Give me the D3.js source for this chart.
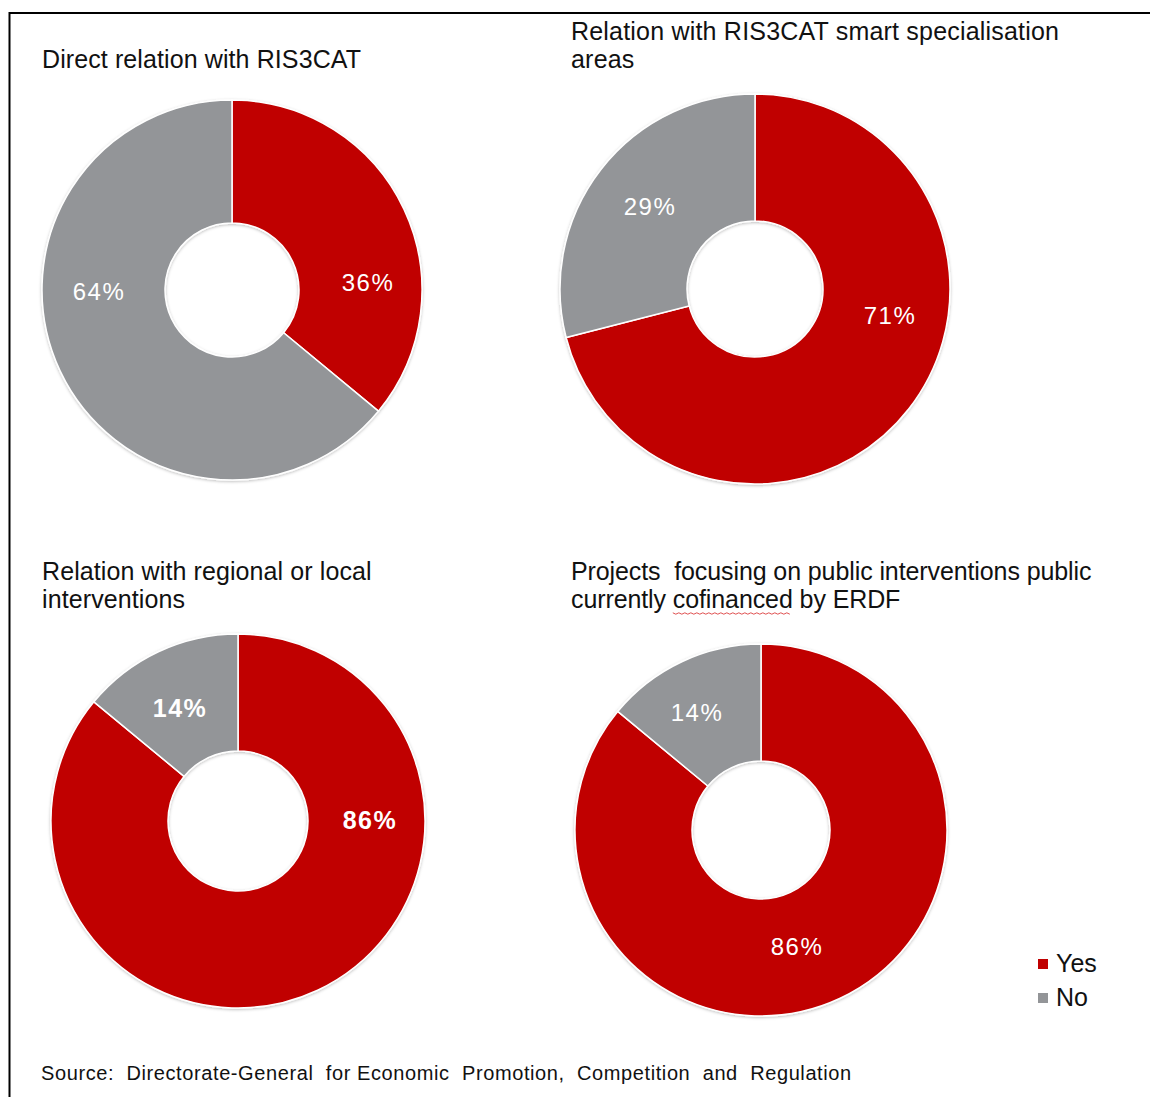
<!DOCTYPE html>
<html><head><meta charset="utf-8">
<script src="https://cdn.jsdelivr.net/npm/d3@7"></script>
<style>body{margin:0;background:#fff;}svg{display:block;font-family:"Liberation Sans",Arial,sans-serif;}</style>
</head><body>
<svg id="c" width="1150" height="1097"></svg>
<script>
const chartTitles = [
  ["Direct relation with RIS3CAT"],
  ["Relation with RIS3CAT smart specialisation", "areas"],
  ["Relation with regional or local", "interventions"],
  ["Projects  focusing on public interventions public", "currently cofinanced by ERDF"]
];
const categories = ["Yes", "No"];
const yesValues = [36, 71, 86, 86];
const noValues = [64, 29, 14, 14];
const sourceText = "Source:  Directorate-General  for Economic  Promotion,  Competition  and  Regulation";

const colors = {Yes: "#C00000", No: "#939598"};
// layout
const layout = [
  {cx: 232, cy: 290, r: 190, ir: 67, tx: 42, ty: 68, bold: false, ls: 0.1, lab: [[136, -8], [-133, 1]]},
  {cx: 755, cy: 289, r: 195, ir: 68, tx: 571, ty: 40, bold: false, ls: 0.2, lab: [[135, 26], [-105, -83]]},
  {cx: 238, cy: 821, r: 187, ir: 70, tx: 42, ty: 580, bold: true, ls: 0.1, lab: [[132, -1], [-58, -113]]},
  {cx: 761, cy: 830, r: 186, ir: 69, tx: 571, ty: 580, bold: false, ls: -0.1, lab: [[36, 116], [-64, -118]]}
];

const svg = d3.select("#c");
// frame
svg.append("line").attr("x1", 9.5).attr("x2", 1150).attr("y1", 13).attr("y2", 13).attr("stroke", "#000").attr("stroke-width", 2);
svg.append("line").attr("x1", 9.5).attr("x2", 9.5).attr("y1", 12).attr("y2", 1097).attr("stroke", "#000").attr("stroke-width", 2);

const defs = svg.append("defs");
const f = defs.append("filter").attr("id", "sh").attr("x", "-10%").attr("y", "-10%").attr("width", "120%").attr("height", "120%");
f.append("feDropShadow").attr("dx", 0).attr("dy", 1).attr("stdDeviation", 1.5).attr("flood-color", "#000").attr("flood-opacity", 0.25);

const pie = d3.pie().sort(null).value(d => d.v);
let lastTspan = null;

layout.forEach((L, i) => {
  const data = [{k: "Yes", v: yesValues[i]}, {k: "No", v: noValues[i]}];
  const arcs = pie(data);
  const arc = d3.arc().innerRadius(L.ir).outerRadius(L.r);
  const g = svg.append("g").attr("transform", `translate(${L.cx},${L.cy})`);
  const gs = g.append("g").attr("filter", "url(#sh)");
  gs.selectAll("path").data(arcs).enter().append("path")
    .attr("d", arc).attr("fill", d => colors[d.data.k])
    .attr("stroke", "#fff").attr("stroke-width", 1.5);
  g.selectAll("text.lab").data(arcs).enter().append("text")
    .attr("class", "lab")
    .attr("x", (d, j) => L.lab[j][0]).attr("y", (d, j) => L.lab[j][1])
    .attr("text-anchor", "middle").attr("dominant-baseline", "central")
    .attr("fill", "#fff").attr("font-size", L.bold ? 25 : 24)
    .attr("font-weight", L.bold ? "bold" : "normal")
    .attr("letter-spacing", 1.5)
    .text(d => d.data.v + "%");
  // title
  const t = svg.append("text").attr("x", L.tx).attr("y", L.ty).attr("font-size", 25).attr("fill", "#111").attr("letter-spacing", L.ls);
  chartTitles[i].forEach((line, j) => {
    lastTspan = t.append("tspan").attr("x", L.tx).attr("dy", j === 0 ? 0 : 28).attr("xml:space", "preserve").text(line);
  });
});

// spell-check squiggle under "cofinanced"
const node = lastTspan.node();
const str = chartTitles[3][1];
const s0 = str.indexOf("cofinanced");
const sx = 571 + node.getSubStringLength(0, s0);
const sw = node.getSubStringLength(s0, "cofinanced".length);
const sq = d3.range(0, Math.floor(sw / 3) + 1).map(k => sx + k * 3);
svg.append("path").attr("d", d3.line().x(d => d).y((d, k) => 613 + (k % 2 ? 1.2 : -0.2))(sq))
  .attr("fill", "none").attr("stroke", "#e05050").attr("stroke-width", 1);

// legend
const lg = svg.append("g").attr("transform", "translate(1038,959)");
categories.forEach((c, j) => {
  lg.append("rect").attr("x", 0).attr("y", j * 34).attr("width", 10).attr("height", 10).attr("fill", colors[c]);
  lg.append("text").attr("x", 18).attr("y", j * 34 + 13).attr("font-size", 25).attr("fill", "#111").text(c);
});

// source
svg.append("text").attr("x", 41).attr("y", 1080).attr("font-size", 20).attr("fill", "#111")
  .attr("xml:space", "preserve").attr("letter-spacing", 0.6).text(sourceText);
</script>
</body></html>
